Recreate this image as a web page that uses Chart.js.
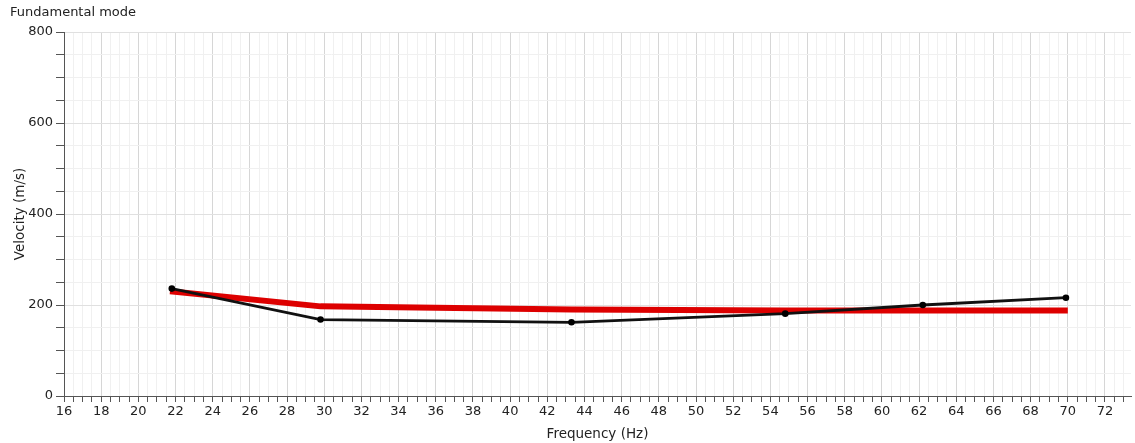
<!DOCTYPE html>
<html>
<head>
<meta charset="utf-8">
<script src="https://cdn.jsdelivr.net/npm/chart.js@4/dist/chart.umd.min.js"></script>
<style>
  html, body { margin: 0; padding: 0; background: #fff; }
  #wrap { width: 1135px; height: 443px; position: relative; }
</style>
</head>
<body>
<div id="wrap"><canvas id="dispersionChart"></canvas></div>
<script>
// measured dispersion curve (black) and model curve (red)
var freqHz = [21.8, 29.8, 43.3, 54.8, 62.2, 69.9];
var velObs = [236, 168, 162, 181, 200, 216];
var modelHz = [21.7, 29.8, 36.0, 43.3, 54.8, 62.2, 70.0];
var velModel = [230, 197, 194, 190, 188, 188, 188];

// axis settings
var xMin = 16, xMax = 73.4, xMajor = 2, xMinor = 0.5;
var yMin = 0, yMax = 800, yMajor = 200, yMinor = 50;

function toPoints(xs, ys) {
  var out = [];
  for (var i = 0; i < xs.length; i++) {
    out.push({ x: xs[i], y: ys[i] });
  }
  return out;
}

function isMajor(v, step) {
  return Math.abs(v / step - Math.round(v / step)) < 1e-6;
}

var font = 'DejaVu Sans';

var ctx = document.getElementById('dispersionChart');
var chart = new Chart(ctx, {
  type: 'line',
  data: {
    datasets: [{
      label: 'measured',
      data: toPoints(freqHz, velObs),
      borderColor: '#111',
      backgroundColor: '#111',
      borderWidth: 2.8,
      pointRadius: 3.3,
      pointBackgroundColor: '#000',
      pointBorderWidth: 0,
      tension: 0,
      order: 0
    }, {
      label: 'model',
      data: toPoints(modelHz, velModel),
      borderColor: '#dd0000',
      borderWidth: 6,
      pointRadius: 0,
      tension: 0,
      order: 1
    }]
  },
  options: {
    responsive: true,
    maintainAspectRatio: false,
    animation: false,
    layout: { padding: { left: 10, right: 0, top: 0, bottom: 0 } },
    plugins: {
      legend: { display: false },
      tooltip: { enabled: false },
      title: {
        display: true,
        text: 'Fundamental mode',
        align: 'start',
        color: '#222',
        font: { family: font, size: 13, weight: 'normal' },
        padding: { top: 5, bottom: 11.4 }
      }
    },
    scales: {
      x: {
        type: 'linear',
        min: xMin,
        max: xMax,
        border: { color: '#555', width: 1 },
        grid: {
          color: function(c) { return isMajor(c.tick.value, xMajor) ? '#d6d6d6' : '#f0f0f0'; },
          tickColor: '#555',
          tickLength: 6
        },
        ticks: {
          stepSize: xMinor,
          includeBounds: false,
          autoSkip: false,
          maxRotation: 0,
          padding: 2,
          color: '#222',
          font: { family: font, size: 13 },
          callback: function(v) { return isMajor(v, xMajor) ? String(v) : ''; }
        },
        title: {
          display: true,
          text: 'Frequency (Hz)',
          color: '#222',
          font: { family: font, size: 13.5 },
          padding: { top: 0, bottom: 0 }
        },
        afterFit: function(s) { s.height = 47; }
      },
      y: {
        type: 'linear',
        min: yMin,
        max: yMax,
        border: { color: '#555', width: 1 },
        grid: {
          color: function(c) { return isMajor(c.tick.value, yMajor) ? '#e0e0e0' : '#f0f0f0'; },
          tickColor: '#555',
          tickLength: 8
        },
        ticks: {
          stepSize: yMinor,
          autoSkip: false,
          padding: 3,
          color: '#222',
          font: { family: font, size: 13 },
          callback: function(v) { return isMajor(v, yMajor) ? String(v) : ''; }
        },
        title: {
          display: true,
          text: 'Velocity (m/s)',
          color: '#222',
          font: { family: font, size: 13.5 },
          padding: { top: 2, bottom: 0 }
        },
        afterFit: function(s) { s.width = 54; }
      }
    }
  }
});
</script>
</body>
</html>
